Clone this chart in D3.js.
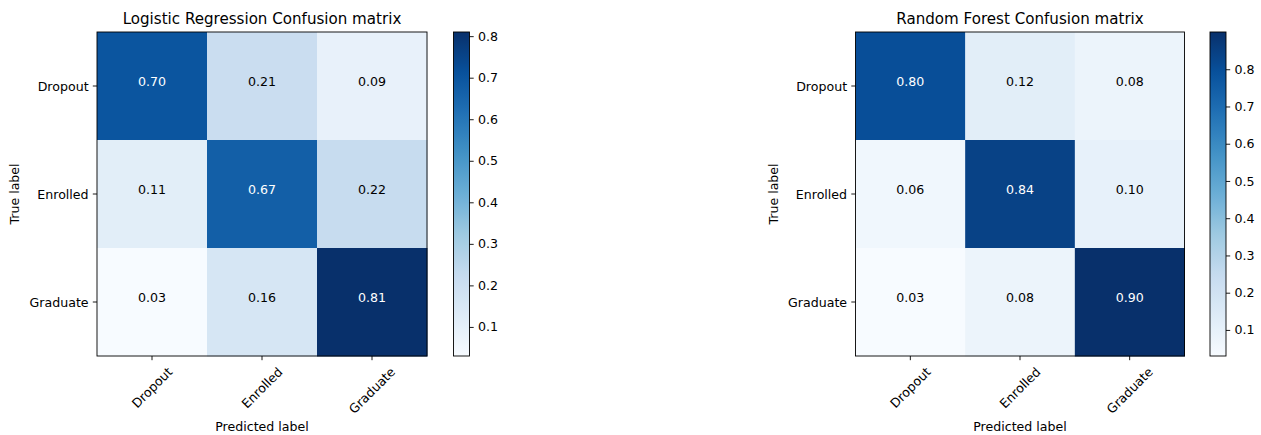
<!DOCTYPE html>
<html>
<head>
<meta charset="utf-8">
<script src="https://cdn.jsdelivr.net/npm/d3@7"></script>
<style>
  body { margin: 0; background: #fff; }
  text { font-family: "DejaVu Sans", sans-serif; }
</style>
</head>
<body>
<svg id="chart" width="1261" height="435"></svg>
<script>
// Class names shared by both confusion matrices
const classes = ["Dropout", "Enrolled", "Graduate"];

// Row-normalised confusion matrices (rows = true label, columns = predicted label)
const logisticValues = [
  [0.70, 0.21, 0.09],
  [0.11, 0.67, 0.22],
  [0.03, 0.16, 0.81]
];
const forestValues = [
  [0.80, 0.12, 0.08],
  [0.06, 0.84, 0.10],
  [0.03, 0.08, 0.90]
];

// Colorbar tick values
const colorbarTicks = [0.1, 0.2, 0.3, 0.4, 0.5, 0.6, 0.7, 0.8];

// "Blues" sequential palette stops
const blues = ["#f7fbff", "#deebf7", "#c6dbef", "#9ecae1", "#6baed6",
               "#4292c6", "#2171b5", "#08519c", "#08306b"];

const panels = [
  { id: "lr", title: "Logistic Regression Confusion matrix", values: logisticValues, x0: 97, x1: 427, cbX: 453.5 },
  { id: "rf", title: "Random Forest Confusion matrix", values: forestValues, x0: 855.5, x1: 1184.5, cbX: 1210 }
];

const plotTop = 32, plotBottom = 356, cbWidth = 16;
const fontSize = 12.6, titleSize = 15.1, tickLen = 4.2, tickPad = 4.2;

const svg = d3.select("#chart");
const defs = svg.append("defs");

const palette = d3.scaleLinear()
  .domain(d3.range(blues.length).map(i => i / (blues.length - 1)))
  .range(blues)
  .interpolate(d3.interpolateRgb)
  .clamp(true);

function styleAxis(g) {
  g.select(".domain").remove();
  g.selectAll(".tick line").attr("stroke", "#000").attr("stroke-width", 0.9);
  g.selectAll(".tick text").attr("fill", "#000").style("font-size", fontSize + "px")
    .style("font-family", "'DejaVu Sans', sans-serif");
}

panels.forEach(p => {
  const flat = p.values.flat();
  const extent = d3.extent(flat);
  const norm = d3.scaleLinear().domain(extent).range([0, 1]);
  const color = v => palette(norm(v));
  const threshold = extent[1] / 2;

  const x = d3.scaleBand().domain(classes).range([p.x0, p.x1]);
  const y = d3.scaleBand().domain(classes).range([plotTop, plotBottom]);

  const g = svg.append("g");

  // cells
  const cells = [];
  p.values.forEach((row, i) => row.forEach((v, j) => cells.push({ t: classes[i], pr: classes[j], v })));

  g.selectAll("rect.cell").data(cells).join("rect")
    .attr("class", "cell")
    .attr("x", d => x(d.pr))
    .attr("y", d => y(d.t))
    .attr("width", x.bandwidth() + 0.5)
    .attr("height", y.bandwidth() + 0.5)
    .attr("fill", d => color(d.v));

  g.selectAll("text.val").data(cells).join("text")
    .attr("class", "val")
    .attr("x", d => x(d.pr) + x.bandwidth() / 2)
    .attr("y", d => y(d.t) + y.bandwidth() / 2)
    .attr("text-anchor", "middle")
    .attr("dy", "-0.02em")
    .style("font-size", fontSize + "px")
    .attr("fill", d => d.v > threshold ? "#fff" : "#000")
    .text(d => d3.format(".2f")(d.v));

  // frame
  g.append("rect")
    .attr("x", p.x0).attr("y", plotTop)
    .attr("width", p.x1 - p.x0).attr("height", plotBottom - plotTop)
    .attr("fill", "none").attr("stroke", "#000").attr("stroke-width", 0.9);

  // y axis
  g.append("g")
    .attr("transform", `translate(${p.x0},0)`)
    .call(d3.axisLeft(y).tickSize(tickLen).tickPadding(tickPad))
    .call(styleAxis)
    .selectAll(".tick text").attr("dy", "0.36em");

  // x axis with rotated labels
  const xa = g.append("g")
    .attr("transform", `translate(0,${plotBottom})`)
    .call(d3.axisBottom(x).tickSize(tickLen).tickPadding(tickPad))
    .call(styleAxis);
  xa.selectAll(".tick text").each(function () {
    const t = d3.select(this);
    const w = this.getComputedTextLength();
    const h = fontSize * 1.164;
    const half = (w + h) * Math.SQRT1_2 / 2;
    t.attr("y", null).attr("dy", null)
      .attr("text-anchor", "middle")
      .attr("dominant-baseline", "central")
      .attr("transform", `translate(0,${tickLen + tickPad + half}) rotate(-45)`);
  });

  // title
  g.append("text")
    .attr("x", (p.x0 + p.x1) / 2).attr("y", 23.5)
    .attr("text-anchor", "middle")
    .style("font-size", titleSize + "px")
    .attr("fill", "#000")
    .text(p.title);

  // axis titles
  g.append("text")
    .attr("transform", `translate(${p.x0 - 82},${(plotTop + plotBottom) / 2}) rotate(-90)`)
    .attr("text-anchor", "middle")
    .attr("dy", "0.35em")
    .style("font-size", fontSize + "px")
    .text("True label");

  g.append("text")
    .attr("x", (p.x0 + p.x1) / 2).attr("y", 430.5)
    .attr("text-anchor", "middle")
    .style("font-size", fontSize + "px")
    .text("Predicted label");

  // colorbar
  const cbScale = d3.scaleLinear().domain(extent).range([plotBottom, plotTop]);
  const grad = defs.append("linearGradient")
    .attr("id", "grad-" + p.id)
    .attr("x1", 0).attr("y1", 1).attr("x2", 0).attr("y2", 0);
  grad.selectAll("stop").data(d3.range(0, 1.0001, 0.02)).join("stop")
    .attr("offset", d => d)
    .attr("stop-color", d => palette(d));

  g.append("rect")
    .attr("x", p.cbX).attr("y", plotTop)
    .attr("width", cbWidth).attr("height", plotBottom - plotTop)
    .attr("fill", `url(#grad-${p.id})`)
    .attr("stroke", "#000").attr("stroke-width", 0.9);

  g.append("g")
    .attr("transform", `translate(${p.cbX + cbWidth},0)`)
    .call(d3.axisRight(cbScale).tickValues(colorbarTicks).tickFormat(d3.format(".1f"))
      .tickSize(tickLen).tickPadding(tickPad))
    .call(styleAxis);
});
</script>
</body>
</html>
